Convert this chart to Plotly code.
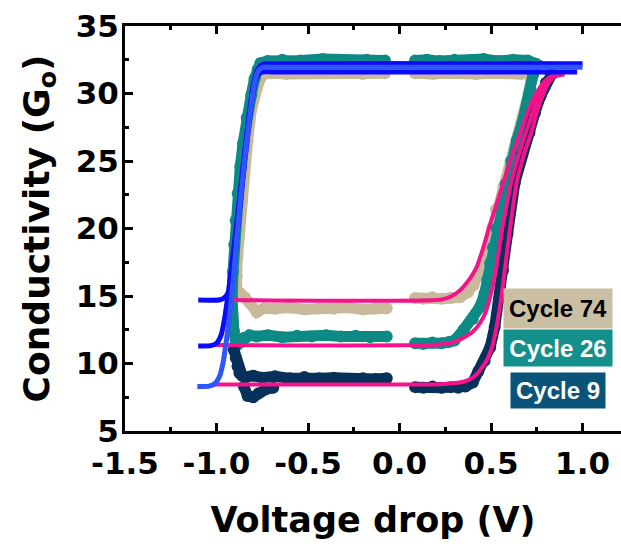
import plotly.graph_objects as go

# ---------------- data ----------------
# Measured clouds: Voltage drop (V) / Conductivity (G0); None separates sweep segments
c74_v = [-0.08, -0.20, -0.35, -0.50, -0.62, -0.70, -0.74, -0.765, -0.79, -0.81, -0.83, -0.848, -0.862,
         -0.876, -0.885, -0.89, -0.89, -0.87, -0.845, -0.82, -0.78, -0.74, -0.68, -0.60, -0.52, -0.44,
         -0.36, -0.28, -0.20, -0.13, -0.07,
         None,
         0.085, 0.13, 0.18, 0.23, 0.28, 0.33, 0.375, 0.405, 0.435, 0.462, 0.487, 0.507, 0.527, 0.567,
         0.607, 0.647, 0.682, 0.705, 0.718, 0.72, 0.66, 0.58, 0.50, 0.42, 0.34, 0.26, 0.18, 0.12, 0.085]
c74_g = [31.5, 31.45, 31.55, 31.5, 31.45, 31.5, 31.45, 31.0, 30.0, 28.8, 26.5, 24.3, 22.0,
         19.8, 18.0, 16.5, 15.5, 15.2, 14.9, 14.5, 13.8, 14.1, 14.05, 14.15, 14.0, 14.1,
         14.05, 14.15, 14.0, 14.1, 14.1,
         None,
         14.85, 14.8, 14.9, 14.8, 14.85, 14.9, 15.3, 15.8, 16.6, 17.6, 18.8, 20.0, 21.4, 23.1,
         25.0, 26.8, 28.5, 30.0, 31.0, 31.5, 31.45, 31.55, 31.5, 31.45, 31.55, 31.5, 31.45, 31.55, 31.5]

c26_v = [-0.08, -0.18, -0.30, -0.42, -0.54, -0.64, -0.72, -0.76, -0.775, -0.792, -0.81, -0.835, -0.855,
         -0.87, -0.884, -0.895, -0.903, -0.91, -0.915, -0.915, -0.905, -0.893, -0.875, -0.85, -0.82,
         -0.78, -0.72, -0.64, -0.56, -0.48, -0.40, -0.32, -0.24, -0.16, -0.07,
         None,
         0.085, 0.13, 0.18, 0.23, 0.27, 0.30, 0.35, 0.40, 0.44, 0.465, 0.48, 0.495, 0.51, 0.53, 0.555,
         0.58, 0.61, 0.64, 0.67, 0.695, 0.715, 0.73, 0.745, 0.70, 0.62, 0.54, 0.46, 0.38, 0.30, 0.22,
         0.15, 0.085]
c26_g = [32.45, 32.5, 32.4, 32.55, 32.45, 32.5, 32.4, 32.25, 31.8, 31.1, 29.9, 28.2, 26.3,
         24.6, 22.6, 20.6, 18.8, 16.8, 14.8, 13.2, 12.4, 11.3, 11.5, 11.9, 12.1,
         12.0, 12.1, 11.95, 12.05, 12.0, 12.1, 12.0, 12.05, 11.95, 12.0,
         None,
         11.5, 11.45, 11.55, 11.5, 11.6, 11.7, 12.5, 13.3, 14.2, 15.2, 16.2, 17.4, 18.6, 20.0, 21.8,
         23.3, 25.0, 26.5, 27.8, 29.0, 30.3, 31.4, 32.2, 32.45, 32.5, 32.4, 32.55, 32.45, 32.5, 32.4,
         32.5, 32.45]

c9_v = [-0.905, -0.895, -0.885, -0.875, -0.86, -0.84, -0.80, -0.75, -0.68, -0.60, -0.52, -0.44,
        -0.36, -0.28, -0.20, -0.13, -0.07,
        None,
        -0.85, -0.83, -0.80, -0.77, -0.73, -0.69,
        None,
        0.085, 0.13, 0.18, 0.23, 0.28, 0.32, 0.36, 0.40, 0.43, 0.465, 0.495, 0.52, 0.545, 0.565,
        0.59, 0.63, 0.67, 0.71, 0.74, 0.77, 0.80, 0.83]
c9_g = [11.0, 10.4, 9.8, 9.3, 9.1, 9.0, 9.1, 8.95, 9.05, 8.9, 9.0, 8.9,
        8.95, 8.85, 8.9, 8.85, 8.9,
        None,
        8.3, 7.6, 7.5, 7.8, 8.1, 8.2,
        None,
        8.25, 8.2, 8.3, 8.2, 8.25, 8.2, 8.3, 8.6, 9.4, 10.2, 11.2, 12.7, 14.8, 16.9,
        19.6, 23.4, 25.5, 27.1, 28.6, 29.8, 30.8, 31.4]

# Fitted curves: SET branch (pink) and RESET branch (blue)
fit_set74_v = [-0.95, 0.22, 0.27, 0.31, 0.35, 0.39, 0.42, 0.46, 0.49, 0.53, 0.57, 0.615, 0.66, 0.70,
               0.735, 0.77, 0.80, 0.84, 0.90]
fit_set74_g = [14.7, 14.72, 14.9, 15.2, 15.7, 16.4, 17.1, 18.7, 20.1, 21.8, 23.5, 25.4, 27.1, 28.6,
               29.7, 30.5, 31.0, 31.35, 31.45]
fit_set26_v = [-1.02, 0.22, 0.29, 0.35, 0.40, 0.44, 0.47, 0.50, 0.53, 0.56, 0.585, 0.61, 0.65, 0.69,
               0.725, 0.755, 0.79, 0.83, 0.90]
fit_set26_g = [11.37, 11.4, 11.55, 11.9, 12.35, 13.0, 13.8, 15.2, 17.2, 19.9, 21.7, 23.4, 25.4, 27.1,
               28.5, 29.6, 30.6, 31.2, 31.4]
fit_set9_v = [-1.02, 0.22, 0.30, 0.35, 0.40, 0.44, 0.475, 0.505, 0.53, 0.555, 0.575, 0.60, 0.64, 0.68,
              0.72, 0.75, 0.775, 0.81, 0.85, 0.90]
fit_set9_g = [8.45, 8.47, 8.55, 8.65, 8.95, 9.5, 10.2, 11.2, 12.7, 14.8, 16.9, 19.6, 23.4, 25.5,
              27.1, 28.6, 29.6, 30.7, 31.3, 31.5]

fit_reset74_v = [-1.10, -0.98, -0.955, -0.935, -0.915, -0.90, -0.885, -0.865, -0.845, -0.825, -0.805,
                 -0.785, -0.765, -0.74, -0.70, 0.97]
fit_reset74_g = [14.7, 14.72, 14.9, 15.3, 16.4, 17.9, 19.9, 22.4, 25.0, 27.4, 29.6, 31.0, 31.5, 31.6,
                 31.6, 31.6]
fit_reset26_v = [-1.10, -1.03, -1.00, -0.975, -0.955, -0.935, -0.915, -0.895, -0.875, -0.855, -0.835,
                 -0.815, -0.795, -0.775, -0.75, -0.71, 1.00]
fit_reset26_g = [11.3, 11.32, 11.5, 12.1, 13.4, 15.3, 17.5, 19.8, 22.2, 24.6, 27.0, 29.2, 30.9, 31.8,
                 32.15, 32.2, 32.2]
fit_reset9_v = [-1.105, -1.04, -1.01, -0.985, -0.965, -0.945, -0.925, -0.905, -0.89, -0.87, -0.85, -0.83,
                -0.81, -0.79, -0.77, -0.745, -0.70, 1.00]
fit_reset9_g = [8.3, 8.32, 8.5, 9.0, 10.0, 11.8, 14.0, 16.8, 19.2, 22.0, 24.6, 27.0, 29.2, 30.9, 31.7,
                31.95, 31.95, 31.95]

legend_labels = ["Cycle 74", "Cycle 26", "Cycle 9"]
x_ticks = [-1.5, -1.0, -0.5, 0.0, 0.5, 1.0]
x_tick_text = ["-1.5", "-1.0", "-0.5", "0.0", "0.5", "1.0"]
y_ticks = [5, 10, 15, 20, 25, 30, 35]

# ---------------- styles ----------------
TAN, TEAL, NAVY = "#c9b99b", "#0e8a86", "#07315a"
PINK, BLUE, BLUE2 = "#f5128a", "#0a0aff", "#2f55ff"

fig = go.Figure()

for v, g, col in [(c74_v, c74_g, TAN), (c26_v, c26_g, TEAL), (c9_v, c9_g, NAVY)]:
    fig.add_trace(go.Scatter(x=v, y=g, mode="lines+markers",
                             line=dict(color=col, width=11),
                             marker=dict(color=col, size=12),
                             connectgaps=False, showlegend=False, hoverinfo="skip"))

for v, g in [(fit_set74_v, fit_set74_g), (fit_set26_v, fit_set26_g), (fit_set9_v, fit_set9_g)]:
    fig.add_trace(go.Scatter(x=v, y=g, mode="lines",
                             line=dict(color=PINK, width=4, shape="spline", smoothing=0.6),
                             showlegend=False, hoverinfo="skip"))

for v, g, col in [(fit_reset74_v, fit_reset74_g, BLUE), (fit_reset26_v, fit_reset26_g, BLUE),
                  (fit_reset9_v, fit_reset9_g, BLUE2)]:
    fig.add_trace(go.Scatter(x=v, y=g, mode="lines",
                             line=dict(color=col, width=5, shape="spline", smoothing=0.6),
                             showlegend=False, hoverinfo="skip"))

TICKFONT = dict(family="DejaVu Sans", size=31, color="black", weight="bold")
XTITLEFONT = dict(family="DejaVu Sans", size=35, color="black", weight="bold")
YTITLEFONT = dict(family="DejaVu Sans", size=36, color="black", weight="bold")

fig.update_layout(
    width=621, height=548,
    margin=dict(l=125, r=0, t=26, b=117),
    paper_bgcolor="white", plot_bgcolor="white",
    xaxis=dict(range=[-1.5, 1.21], tickvals=x_ticks, ticktext=x_tick_text,
               ticks="inside", ticklen=8, tickwidth=3, tickcolor="black",
               showline=True, linewidth=3, linecolor="black", mirror="ticks",
               minor=dict(dtick=0.25, tick0=-1.5, ticks="inside", ticklen=4, tickwidth=3,
                          tickcolor="black", showgrid=False),
               showgrid=False, zeroline=False, tickfont=TICKFONT, ticklabelstandoff=3,
               title=dict(text="Voltage drop (V)", font=XTITLEFONT, standoff=28),
               automargin=False),
    yaxis=dict(range=[5, 35], tickvals=y_ticks,
               ticks="inside", ticklen=8, tickwidth=3, tickcolor="black",
               showline=True, linewidth=3, linecolor="black", mirror=False,
               minor=dict(dtick=2.5, tick0=5, ticks="inside", ticklen=4, tickwidth=3,
                          tickcolor="black", showgrid=False),
               showgrid=False, zeroline=False, tickfont=TICKFONT, ticklabelstandoff=-3,
               title=dict(text="Conductivity (G<sub>o</sub>)", font=YTITLEFONT, standoff=16),
               automargin=False),
    font=dict(family="DejaVu Sans"),
)

box_styles = [
    dict(bg="#cbbfa3", fg="black", x=0.867, y=14.08, w=100, h=31),
    dict(bg="#13908b", fg="white", x=0.867, y=11.14, w=100, h=28),
    dict(bg="#0b5479", fg="white", x=0.867, y=7.99, w=86, h=27),
]
for label, st in zip(legend_labels, box_styles):
    fig.add_annotation(x=st["x"], y=st["y"], xref="x", yref="y", text=label, showarrow=False,
                       bgcolor=st["bg"], width=st["w"], height=st["h"], borderpad=4,
                       font=dict(family="Liberation Sans", size=24, color=st["fg"], weight="bold"))

fig.write_html("out.html")
